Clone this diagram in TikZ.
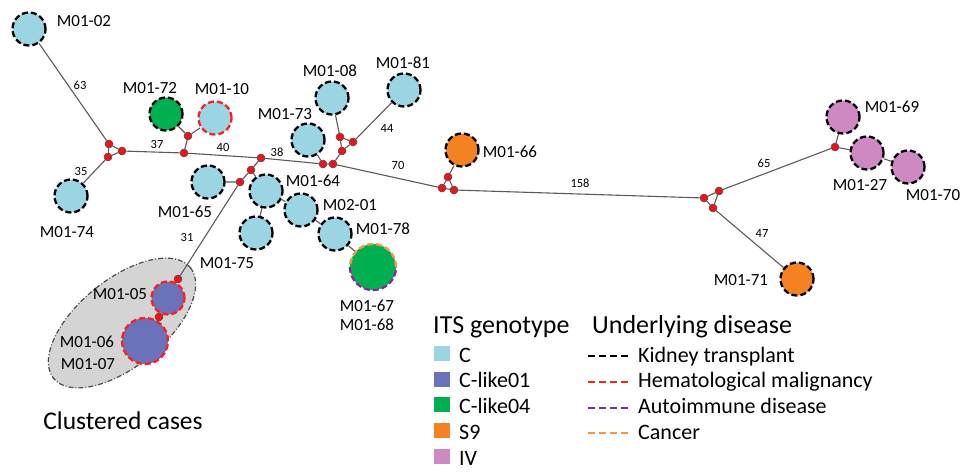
\documentclass[tikz,border=0pt]{standalone}
\usepackage{fontspec}
\setmainfont{Carlito}
\usepackage{tikz}
\usetikzlibrary{calc}

\definecolor{gtC}{RGB}{155,212,226}
\definecolor{gtCa}{RGB}{107,114,185}
\definecolor{gtCb}{RGB}{0,176,80}
\definecolor{gtS}{RGB}{245,130,32}
\definecolor{gtIV}{RGB}{207,137,194}
\definecolor{dsHem}{RGB}{255,30,30}
\definecolor{dsAuto}{RGB}{112,48,160}
\definecolor{dsCan}{RGB}{247,150,70}
\definecolor{hubred}{RGB}{235,20,25}
\definecolor{linkgray}{RGB}{90,90,90}
\definecolor{clustergray}{RGB}{212,212,212}

\tikzset{
  iso/.style={circle, minimum size=33pt, inner sep=0pt, line width=2.3pt, dash pattern=on 6pt off 3pt, draw=black},
  bigiso/.style={iso, minimum size=46pt},
  hub/.style={circle, minimum size=8pt, inner sep=0pt, fill=hubred, draw=black!70, line width=0.5pt},
  link/.style={draw=linkgray, line width=1.1pt},
  lab/.style={font=\fontsize{17}{17}\selectfont, inner sep=0pt},
  num/.style={font=\fontsize{12.5}{12.5}\selectfont, inner sep=0pt},
  head/.style={font=\fontsize{26}{26}\selectfont, inner sep=0pt, anchor=base west},
  item/.style={font=\fontsize{22}{22}\selectfont, inner sep=0pt, anchor=base west},
  swatch/.style={minimum width=16pt, minimum height=15pt, inner sep=0pt, anchor=south west},
  sample/.style={line width=2pt, dash pattern=on 7pt off 4pt},
}

\begin{document}
\begin{tikzpicture}[x=1pt, y=-1pt]
    \useasboundingbox (0,0) rectangle (975,476);

    %cluster
    \draw[fill=clustergray, draw=black!70, line width=1.2pt, dash pattern=on 5pt off 2pt on 1pt off 2pt, rotate around={39:(122,323)}] (122,323) ellipse [x radius=88pt, y radius=43.5pt];

    %isolates
    \node[iso, fill=gtC] (m0102) at (29,29) {};
    \node[iso, fill=gtC] (m0174) at (71,196) {};
    \node[iso, fill=gtCb] (m0172) at (166,114) {};
    \node[iso, fill=gtC, draw=dsHem] (m0110) at (215,118) {};
    \node[iso, fill=gtC] (m0165) at (208,182) {};
    \node[iso, fill=gtC] (m0164) at (266,191) {};
    \node[iso, fill=gtC] (m0175) at (256,233) {};
    \node[iso, fill=gtC] (m0201) at (301,210) {};
    \node[iso, fill=gtC] (m0178) at (335,234) {};
    \node[bigiso, fill=gtCb, draw=dsCan] (m0167) at (373,267) {};
    \begin{scope}
      \clip (340,267) rectangle (410,300);
      \draw[line width=2.3pt, dash pattern=on 6pt off 3pt, dsAuto] (m0167.center) circle [radius=23pt];
    \end{scope}
    \node[iso, fill=gtC] (m0173) at (308,140) {};
    \node[iso, fill=gtC] (m0108) at (332,98) {};
    \node[iso, fill=gtC] (m0181) at (404,90) {};
    \node[iso, fill=gtS] (m0166) at (462,150) {};
    \node[iso, fill=gtIV] (m0169) at (843,117) {};
    \node[iso, fill=gtIV] (m0127) at (867,153) {};
    \node[iso, fill=gtIV] (m0170) at (908,167) {};
    \node[iso, fill=gtS] (m0171) at (797,279) {};
    \node[iso, fill=gtCa, draw=dsHem] (m0105) at (168,298) {};
    \node[bigiso, fill=gtCa, draw=dsHem] (m0106) at (145,341) {};

    %median vectors
    \node[hub] (h1) at (109,144) {};
    \node[hub] (h2) at (108,157) {};
    \node[hub] (h3) at (122,151) {};
    \node[hub] (h4) at (184,153) {};
    \node[hub] (h5) at (188,136) {};
    \node[hub] (h6) at (261,158) {};
    \node[hub] (h7) at (251,170) {};
    \node[hub] (h8) at (240,182) {};
    \node[hub] (h9) at (323,164) {};
    \node[hub] (h10) at (333,164) {};
    \node[hub] (h11) at (342,151) {};
    \node[hub] (h12) at (340,137) {};
    \node[hub] (h13) at (353,142) {};
    \node[hub] (h14) at (442,188) {};
    \node[hub] (h15) at (454,190) {};
    \node[hub] (h16) at (448,177) {};
    \node[hub] (h17) at (704,198) {};
    \node[hub] (h18) at (719,191) {};
    \node[hub] (h19) at (713,208) {};
    \node[hub] (h20) at (835,147) {};
    \node[hub] (h21) at (178,279) {};
    \node[hub] (h22) at (159,317) {};

    %links
    \draw[link] (h1) -- (h2) -- (h3) -- (h1);
    \draw[link] (h1) -- (m0102);
    \draw[link] (h2) -- (m0174);
    \draw[link] (h3) -- (h4) -- (h6) -- (h9) -- (h10) -- (h14);
    \draw[link] (h4) -- (h5) -- (m0172);
    \draw[link] (h5) -- (m0110);
    \draw[link] (h6) -- (h7) -- (h8) -- (m0165);
    \draw[link] (h7) -- (m0164);
    \draw[link] (h8) -- (h21) -- (m0105) -- (h22) -- (m0106);
    \draw[link] (m0164) -- (m0175);
    \draw[link] (m0164) -- (m0201) -- (m0178) -- (m0167);
    \draw[link] (h9) -- (m0173);
    \draw[link] (h10) -- (h11) -- (h12) -- (m0108);
    \draw[link] (h12) -- (h13) -- (h11);
    \draw[link] (h13) -- (m0181);
    \draw[link] (h14) -- (h15) -- (h16) -- (h14);
    \draw[link] (h16) -- (m0166);
    \draw[link] (h15) -- (h17);
    \draw[link] (h17) -- (h18) -- (h19) -- (h17);
    \draw[link] (h18) -- (h20) -- (m0169);
    \draw[link] (h20) -- (m0127) -- (m0170);
    \draw[link] (h19) -- (m0171);

    %mutations
    \node[num] (n63) at (80,85) {63};
    \node[num] (n35) at (81,171) {35};
    \node[num] (n37) at (157,144) {37};
    \node[num] (n40) at (223,147) {40};
    \node[num] (n38) at (277,152) {38};
    \node[num] (n31) at (187,237) {31};
    \node[num] (n44) at (387,128) {44};
    \node[num] (n70) at (398,165) {70};
    \node[num] (n158) at (580,183) {158};
    \node[num] (n65) at (764,163) {65};
    \node[num] (n47) at (762,233) {47};

    %labels
    \node[lab] (l0102) at (84,21) {M01-02};
    \node[lab] (l0172) at (150,88) {M01-72};
    \node[lab] (l0110) at (222,89) {M01-10};
    \node[lab] (l0174) at (67,232) {M01-74};
    \node[lab] (l0173) at (285,114) {M01-73};
    \node[lab] (l0108) at (330,71) {M01-08};
    \node[lab] (l0181) at (403,63) {M01-81};
    \node[lab] (l0164) at (313,181) {M01-64};
    \node[lab] (l0201) at (350,205) {M02-01};
    \node[lab] (l0178) at (383,229) {M01-78};
    \node[lab] (l0165) at (185,212) {M01-65};
    \node[lab] (l0175) at (227,263) {M01-75};
    \node[lab] (l0167) at (367,306) {M01-67};
    \node[lab] (l0168) at (367,325) {M01-68};
    \node[lab] (l0105) at (120,294) {M01-05};
    \node[lab] (l0106) at (87,342) {M01-06};
    \node[lab] (l0107) at (88,364) {M01-07};
    \node[lab] (l0166) at (510,152) {M01-66};
    \node[lab] (l0169) at (892,107) {M01-69};
    \node[lab] (l0127) at (860,185) {M01-27};
    \node[lab] (l0170) at (933,195) {M01-70};
    \node[lab] (l0171) at (741,280) {M01-71};
    \node[font=\fontsize{25.5}{25.5}\selectfont, inner sep=0pt] (lclust) at (123,421) {Clustered cases};

    %legend
    \node[head] (hgeno) at (433,333) {ITS genotype};
    \node[head] (hdis) at (592,333) {Underlying disease};
    \foreach \col/\txt [count=\i from 0] in {gtC/C, gtCa/C-like01, gtCb/C-like04, gtS/S9, gtIV/IV} {
      \node[swatch, fill=\col] (sw\i) at (434,361+25.75*\i) {};
      \node[item] (gt\i) at (459,362+25.75*\i) {\txt};
    }
    \foreach \col/\txt [count=\i from 0] in {black/Kidney transplant, dsHem/Hematological malignancy, dsAuto/Autoimmune disease, dsCan/Cancer} {
      \coordinate (da\i) at (588,356+25.75*\i);
      \coordinate (db\i) at (629,356+25.75*\i);
      \draw[sample, \col] (da\i) -- (db\i);
      \node[item] (ds\i) at (638,362+25.75*\i) {\txt};
    }
\end{tikzpicture}
\end{document}
